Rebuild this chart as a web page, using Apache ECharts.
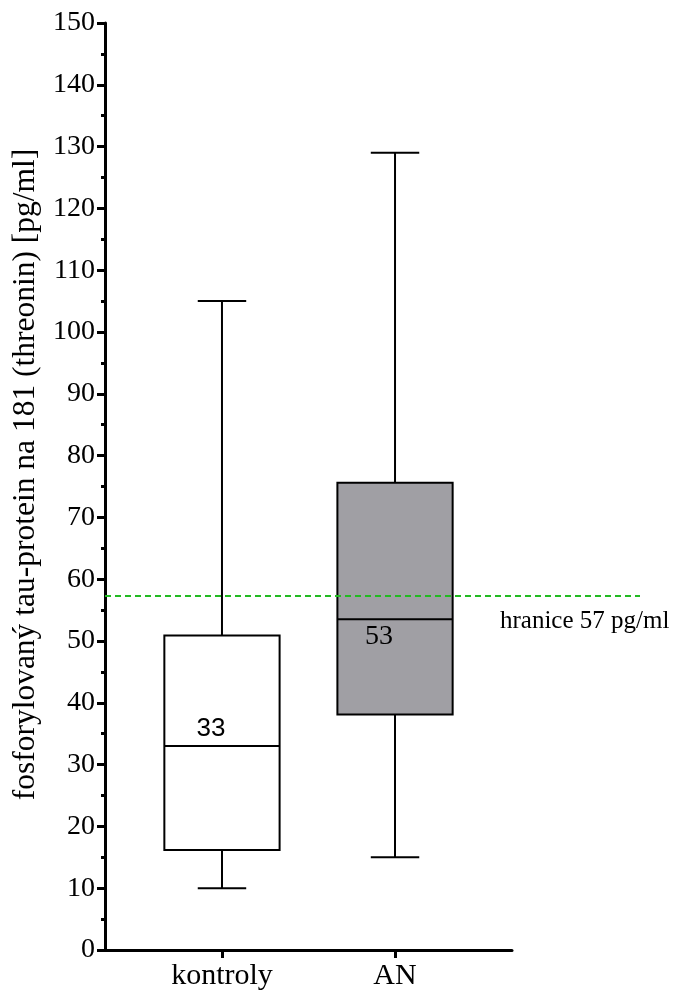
<!DOCTYPE html>
<html>
<head>
<meta charset="utf-8">
<script src="https://cdn.jsdelivr.net/npm/echarts@6/dist/echarts.min.js"></script>
<style>
  html, body { margin: 0; padding: 0; background: #fff; }
  #chart { width: 682px; height: 1000px; }
</style>
</head>
<body>
<div id="chart"></div>
<script>
// data
const categories = ['kontroly', 'AN'];
const whiskerLow = [10, 15];
const q1 = [16.2, 38.1];
const median = [33, 53.5];
const q3 = [50.9, 75.6];
const whiskerHigh = [105, 129];
const medianLabels = ['33', '53'];
const threshold = 57.3;
const thresholdLabel = 'hranice 57 pg/ml';
const yTicks = { min: 0, max: 150, step: 10 };

const SERIF = '"Liberation Serif", "Times New Roman", serif';
const SANS = '"Liberation Sans", Arial, sans-serif';
const BOX_HALF = 0.333;   // half box width in category units
const CAP_HALF = 0.14;
const boxFill = ['#ffffff', '#a09fa4'];

const chart = echarts.init(document.getElementById('chart'));

const boxData = categories.map((c, i) => [i, whiskerLow[i], q1[i], median[i], q3[i], whiskerHigh[i]]);

function renderBox(params, api) {
  const i = api.value(0);
  const pt = v => api.coord([i, v]);
  const xl = api.coord([i - BOX_HALF, 0])[0];
  const xr = api.coord([i + BOX_HALF, 0])[0];
  const cl = api.coord([i - CAP_HALF, 0])[0];
  const cr = api.coord([i + CAP_HALF, 0])[0];
  const pLo = pt(api.value(1)), pQ1 = pt(api.value(2)), pMed = pt(api.value(3));
  const pQ3 = pt(api.value(4)), pHi = pt(api.value(5));
  const line = { stroke: '#000', lineWidth: 2 };
  const above = params.dataIndex === 0;
  return {
    type: 'group',
    children: [
      { type: 'line', shape: { x1: pHi[0], y1: pHi[1], x2: pQ3[0], y2: pQ3[1] }, style: line },
      { type: 'line', shape: { x1: pQ1[0], y1: pQ1[1], x2: pLo[0], y2: pLo[1] }, style: line },
      { type: 'line', shape: { x1: cl, y1: pHi[1], x2: cr, y2: pHi[1] }, style: line },
      { type: 'line', shape: { x1: cl, y1: pLo[1], x2: cr, y2: pLo[1] }, style: line },
      { type: 'rect', shape: { x: xl, y: pQ3[1], width: xr - xl, height: pQ1[1] - pQ3[1] },
        style: { fill: boxFill[params.dataIndex], stroke: '#000', lineWidth: 2 } },
      { type: 'line', shape: { x1: xl, y1: pMed[1], x2: xr, y2: pMed[1] }, style: line },
      { type: 'text',
        x: pMed[0] + (above ? -11 : -16),
        y: pMed[1] + (above ? -4 : 3),
        style: {
          text: medianLabels[params.dataIndex],
          font: above ? '26px ' + SANS : '28px ' + SERIF,
          fill: '#000',
          align: 'center',
          verticalAlign: above ? 'bottom' : 'top'
        } }
    ]
  };
}

chart.setOption({
  animation: false,
  backgroundColor: '#fff',
  grid: [
    { left: 105, right: 170, top: 23, bottom: 50 },
    { left: 105, right: 42, top: 23, bottom: 50 }
  ],
  xAxis: [
    {
      type: 'value', gridIndex: 0,
      min: -0.676, max: 1.676,
      axisLine: { lineStyle: { color: '#000', width: 3 } },
      axisTick: { show: true, customValues: [0, 1], length: 8, lineStyle: { color: '#000', width: 3 } },
      axisLabel: {
        customValues: [0, 1], margin: 11,
        formatter: v => categories[v],
        color: '#000', fontFamily: SERIF, fontSize: 30
      },
      splitLine: { show: false }
    },
    { type: 'value', gridIndex: 1, min: 0, max: 1, show: false }
  ],
  yAxis: [
    {
      type: 'value', gridIndex: 0,
      min: yTicks.min, max: yTicks.max, interval: yTicks.step,
      name: 'fosforylovaný tau-protein na 181 (threonin) [pg/ml]',
      nameLocation: 'middle', nameGap: 59,
      nameTextStyle: { color: '#000', fontFamily: SERIF, fontSize: 31.5, padding: [0, 0, 0, 24] },
      axisLine: { show: true, onZero: false, lineStyle: { color: '#000', width: 3 } },
      axisTick: { show: true, length: 8, lineStyle: { color: '#000', width: 3 } },
      minorTick: { show: true, splitNumber: 2, length: 4, lineStyle: { color: '#000', width: 3 } },
      axisLabel: { color: '#000', fontFamily: SERIF, fontSize: 28, margin: 10 },
      splitLine: { show: false }
    },
    { type: 'value', gridIndex: 1, min: yTicks.min, max: yTicks.max, show: false }
  ],
  series: [
    {
      type: 'custom', xAxisIndex: 0, yAxisIndex: 0,
      renderItem: renderBox,
      encode: { x: 0, y: [1, 2, 3, 4, 5] },
      data: boxData,
      z: 2
    },
    {
      type: 'line', xAxisIndex: 1, yAxisIndex: 1,
      data: [[0, threshold], [1, threshold]],
      symbol: 'none',
      lineStyle: { color: '#22bb22', width: 2, type: [6, 4] },
      z: 3
    }
  ],
  graphic: [
    {
      type: 'text', left: 500, top: 609,
      style: { text: thresholdLabel, font: '25px ' + SERIF, fill: '#000' }
    }
  ]
});
</script>
</body>
</html>
